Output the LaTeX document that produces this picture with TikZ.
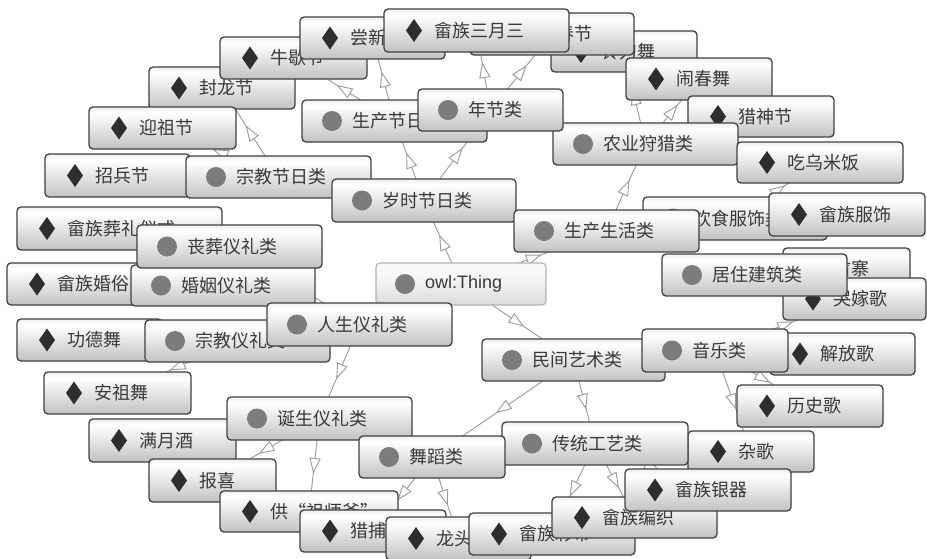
\documentclass[tikz,border=0pt]{standalone}
\usepackage{fontspec}
\newfontfamily\cjkfont{Noto Sans CJK SC}
\newfontfamily\latfont{Liberation Sans}
\usetikzlibrary{calc,decorations.markings}
\pgfdeclarelayer{background}
\pgfdeclarelayer{canvas}
\pgfsetlayers{canvas,background,main}
\definecolor{bordc}{HTML}{404040}
\definecolor{txtc}{HTML}{3A3A3A}
\definecolor{edgec}{HTML}{9A9A9A}
\definecolor{dotc}{HTML}{7C7C7C}
\definecolor{diac}{HTML}{2E2E2E}
\pgfdeclareverticalshading{boxshade}{100bp}{color(0bp)=(gray!48); color(25bp)=(gray!48); color(50bp)=(gray!20); color(68bp)=(white); color(75bp)=(gray!12); color(100bp)=(gray!12)}
\pgfdeclareverticalshading{owlshade}{100bp}{color(0bp)=(gray!28); color(25bp)=(gray!28); color(60bp)=(gray!6); color(75bp)=(gray!4); color(100bp)=(gray!4)}
\tikzset{
  obx/.style={draw=bordc, line width=1.3pt, rounded corners=4pt, shade, shading=boxshade, inner sep=0pt, outer sep=0pt},
  owlbox/.style={obx, draw=gray!60, shading=owlshade, line width=1.1pt},
  otext/.style={text=txtc, font=\cjkfont\fontsize{18}{18}\selectfont, inner sep=0pt},
  icond/.style={fill=diac},
  iconc/.style={fill=dotc},
  edge/.style={draw=edgec, line width=0.9pt, postaction={decorate},
    decoration={markings, mark=at position 0.5 with {\draw[draw=edgec, fill=white, line width=0.9pt, line join=miter] (7pt,0pt) -- (-7pt,5pt) -- (-7pt,-5pt) -- cycle;}}}
}
\newcommand\obox[7]{%
  \pgfmathsetmacro\bw{#5-#3}\pgfmathsetmacro\bh{#6-#4}%
  \node[obx, minimum width=\bw pt, minimum height=\bh pt, anchor=north west] (#1) at (#3,#4) {};
  \if d#2
    \fill[icond] ($(#1.west)+(30,0)$) +(0,-11.5) -- +(8,0) -- +(0,11.5) -- +(-8,0) -- cycle;
  \else
    \fill[iconc] ($(#1.west)+(30,0)$) circle[radius=10pt];
  \fi
  \node[otext, anchor=west] (#1-t) at ($(#1.west)+(50,0)$) {#7};
}
\begin{document}
\begin{tikzpicture}[x=1pt,y=-1pt]
\useasboundingbox (0,0) rectangle (927,558);
\begin{pgfonlayer}{canvas}
\fill[white] (0,0) rectangle (927,558);
\end{pgfonlayer}
\obox{fenglong}{d}{149}{67}{295}{109}{封龙节}
\obox{niuxie}{d}{220}{37}{367}{79}{牛歇节}
\obox{changxin}{d}{300}{17}{445}{59}{尝新节}
\obox{lingdao}{d}{551}{31}{697}{72}{铃刀舞}
\obox{chunjie}{d}{470}{13}{634}{55}{畲族春节}
\obox{sanyuesan}{d}{384}{9}{569}{52}{畲族三月三}
\obox{naochun}{d}{626}{58}{772}{100}{闹春舞}
\obox{lieshen}{d}{688}{96}{834}{137}{猎神节}
\obox{nongye}{c}{553}{123}{738}{165}{农业狩猎类}
\obox{chiwumi}{d}{737}{142}{903}{183}{吃乌米饭}
\obox{shengchanjr}{c}{302}{100}{487}{142}{生产节日类}
\obox{nianjie}{c}{418}{89}{563}{131}{年节类}
\obox{yingzu}{d}{89}{107}{236}{149}{迎祖节}
\obox{zhaobing}{d}{45}{154}{190}{197}{招兵节}
\obox{zongjiaojr}{c}{186}{156}{371}{198}{宗教节日类}
\obox{suishi}{c}{332}{179}{516}{222}{岁时节日类}
\obox{yinshi}{c}{643}{197}{827}{240}{饮食服饰类}
\obox{fushi}{d}{769}{193}{925}{236}{畲族服饰}
\obox{shengchansh}{c}{514}{210}{699}{252}{生产生活类}
\obox{shezhai}{d}{783}{248}{910}{290}{畲寨}
\obox{kujia}{d}{783}{278}{926}{320}{哭嫁歌}
\obox{juzhu}{c}{662}{254}{847}{296}{居住建筑类}
\obox{zangli}{d}{17}{207}{222}{250}{畲族葬礼仪式}
\obox{hunsu}{d}{7}{263}{173}{305}{畲族婚俗}
\obox{hunyin}{c}{131}{265}{315}{306}{婚姻仪礼类}
\obox{sangzang}{c}{137}{225}{322}{268}{丧葬仪礼类}
\node[owlbox, minimum width=170pt, minimum height=42pt, anchor=north west] (owl) at (376,263) {};
\fill[iconc] ($(owl.west)+(29,0)$) circle[radius=10pt];
\node[otext, font=\latfont\fontsize{18}{18}\selectfont, anchor=west] (owl-t) at ($(owl.west)+(49,0)$) {owl:Thing};
\obox{gongde}{d}{17}{319}{162}{361}{功德舞}
\obox{zongjiaoyl}{c}{145}{320}{330}{362}{宗教仪礼类}
\obox{rensheng}{c}{267}{303}{452}{346}{人生仪礼类}
\obox{jiefang}{d}{770}{333}{915}{375}{解放歌}
\obox{minjian}{c}{482}{339}{665}{381}{民间艺术类}
\obox{yinyue}{c}{642}{329}{788}{372}{音乐类}
\obox{lishi}{d}{737}{385}{883}{427}{历史歌}
\obox{anzu}{d}{44}{372}{191}{414}{安祖舞}
\obox{manyue}{d}{89}{419}{236}{462}{满月酒}
\obox{dansheng}{c}{227}{397}{412}{440}{诞生仪礼类}
\obox{zage}{d}{688}{431}{814}{472}{杂歌}
\obox{chuantong}{c}{502}{422}{688}{465}{传统工艺类}
\obox{wudao}{c}{359}{436}{505}{478}{舞蹈类}
\obox{baoxi}{d}{149}{459}{276}{502}{报喜}
\obox{gong}{d}{220}{491}{398}{532}{供“祖师爷”}
\obox{liebu}{d}{300}{510}{446}{552}{猎捕舞}
\obox{longtou}{d}{386}{517}{531}{560}{龙头舞}
\obox{caidai}{d}{469}{513}{635}{555}{畲族彩带}
\obox{bianzhi}{d}{552}{497}{717}{538}{畲族编织}
\obox{yinqi}{d}{625}{469}{791}{511}{畲族银器}
\begin{pgfonlayer}{background}
\foreach \a/\b in {owl/suishi, owl/shengchansh, owl/minjian, suishi/nianjie, suishi/shengchanjr,
  nianjie/sanyuesan, nianjie/chunjie, shengchanjr/niuxie, shengchanjr/changxin,
  zongjiaojr/fenglong, zongjiaojr/yingzu, shengchansh/nongye, nongye/lingdao, nongye/naochun,
  yinshi/chiwumi, rensheng/dansheng, rensheng/sangzang, zongjiaoyl/anzu, dansheng/baoxi,
  dansheng/gong, minjian/wudao, minjian/chuantong, wudao/liebu, wudao/longtou,
  chuantong/bianzhi, chuantong/caidai, chuantong/yinqi, yinyue/lishi, yinyue/kujia, yinyue/zage}
  \draw[edge] (\a) -- (\b);
\end{pgfonlayer}
\end{tikzpicture}
\end{document}
